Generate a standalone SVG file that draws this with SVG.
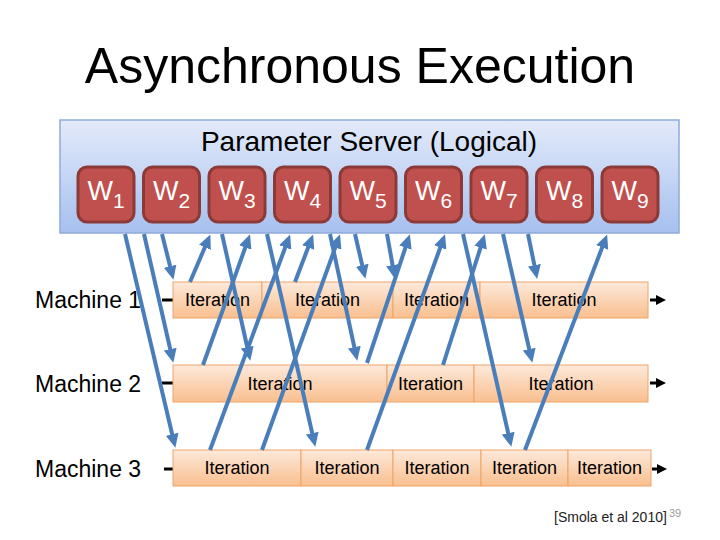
<svg xmlns="http://www.w3.org/2000/svg" width="720" height="540" viewBox="0 0 720 540">
<defs>
<linearGradient id="ps" x1="0" y1="0" x2="0" y2="1">
<stop offset="0" stop-color="#e3eafa"/>
<stop offset="1" stop-color="#a6c0ef"/>
</linearGradient>
<linearGradient id="it" x1="0" y1="0" x2="0" y2="1">
<stop offset="0" stop-color="#fde9da"/>
<stop offset="1" stop-color="#f9bf8f"/>
</linearGradient>
<marker id="ba" markerUnits="userSpaceOnUse" markerWidth="14" markerHeight="13" refX="8" refY="6.5" orient="auto">
<path d="M0,0 L14,6.5 L0,13 z" fill="#4a7ebb"/>
</marker>
<marker id="ka" markerUnits="userSpaceOnUse" markerWidth="10" markerHeight="10" refX="5" refY="5" orient="auto">
<path d="M0,0 L10,5 L0,10 z" fill="#000"/>
</marker>
</defs>
<style>
.w rect{fill:#c0504d;stroke:#8c3a38;stroke-width:3}
.w text{fill:#fff;font-family:"Liberation Sans",Arial,sans-serif;font-size:27px;text-anchor:middle}
.seg{fill:url(#it);stroke:#eda468;stroke-width:1}
.itl{font-family:"Liberation Sans",Arial,sans-serif;font-size:18px;text-anchor:middle;fill:#000}
.ml{font-family:"Liberation Sans",Arial,sans-serif;font-size:23px;fill:#000}
.bl{stroke:#4a7ebb;stroke-width:4;fill:none;marker-end:url(#ba)}
.kl{stroke:#000;stroke-width:3;fill:none}
</style>
<rect width="720" height="540" fill="#fff"/>
<text x="360" y="83" font-family="Liberation Sans, Arial, sans-serif" font-size="50" text-anchor="middle" fill="#000">Asynchronous Execution</text>

<g id="server">
<rect x="60" y="120" width="619" height="113" fill="url(#ps)" stroke="#8eaadb" stroke-width="1.5"/>
<text x="369" y="151" font-family="Liberation Sans, Arial, sans-serif" font-size="28" text-anchor="middle" fill="#000">Parameter Server (Logical)</text>
</g>
<g id="w1" class="w"><rect x="78" y="167" width="56" height="55" rx="9"/><text x="106" y="200">W<tspan font-size="21" dy="8">1</tspan></text></g>
<g id="w2" class="w"><rect x="143.5" y="167" width="56" height="55" rx="9"/><text x="171.5" y="200">W<tspan font-size="21" dy="8">2</tspan></text></g>
<g id="w3" class="w"><rect x="209" y="167" width="56" height="55" rx="9"/><text x="237" y="200">W<tspan font-size="21" dy="8">3</tspan></text></g>
<g id="w4" class="w"><rect x="274.5" y="167" width="56" height="55" rx="9"/><text x="302.5" y="200">W<tspan font-size="21" dy="8">4</tspan></text></g>
<g id="w5" class="w"><rect x="340" y="167" width="56" height="55" rx="9"/><text x="368" y="200">W<tspan font-size="21" dy="8">5</tspan></text></g>
<g id="w6" class="w"><rect x="405.5" y="167" width="56" height="55" rx="9"/><text x="433.5" y="200">W<tspan font-size="21" dy="8">6</tspan></text></g>
<g id="w7" class="w"><rect x="471" y="167" width="56" height="55" rx="9"/><text x="499" y="200">W<tspan font-size="21" dy="8">7</tspan></text></g>
<g id="w8" class="w"><rect x="536.5" y="167" width="56" height="55" rx="9"/><text x="564.5" y="200">W<tspan font-size="21" dy="8">8</tspan></text></g>
<g id="w9" class="w"><rect x="602" y="167" width="56" height="55" rx="9"/><text x="630" y="200">W<tspan font-size="21" dy="8">9</tspan></text></g>

<g id="machine1">
<text class="ml" x="35" y="308">Machine 1</text>
<line class="kl" x1="162" y1="300" x2="173" y2="300"/>
<rect class="seg" x="173" y="282" width="89" height="36"/>
<rect class="seg" x="262" y="282" width="131" height="36"/>
<rect class="seg" x="393" y="282" width="87" height="36"/>
<rect class="seg" x="480" y="282" width="168" height="36"/>
<text class="itl" x="217.5" y="306">Iteration</text>
<text class="itl" x="327.5" y="306">Iteration</text>
<text class="itl" x="436.5" y="306">Iteration</text>
<text class="itl" x="564" y="306">Iteration</text>
<line class="kl" x1="650" y1="300" x2="661" y2="300" marker-end="url(#ka)"/>
</g>
<g id="machine2">
<text class="ml" x="35" y="392">Machine 2</text>
<line class="kl" x1="162" y1="383" x2="173" y2="383"/>
<rect class="seg" x="173" y="365" width="214" height="37"/>
<rect class="seg" x="387" y="365" width="87" height="37"/>
<rect class="seg" x="474" y="365" width="174" height="37"/>
<text class="itl" x="280" y="390">Iteration</text>
<text class="itl" x="430.5" y="390">Iteration</text>
<text class="itl" x="561" y="390">Iteration</text>
<line class="kl" x1="650" y1="383" x2="661" y2="383" marker-end="url(#ka)"/>
</g>
<g id="machine3">
<text class="ml" x="35" y="477">Machine 3</text>
<line class="kl" x1="164" y1="469" x2="173" y2="469"/>
<rect class="seg" x="173" y="450" width="128" height="36"/>
<rect class="seg" x="301" y="450" width="92" height="36"/>
<rect class="seg" x="393" y="450" width="88" height="36"/>
<rect class="seg" x="481" y="450" width="87" height="36"/>
<rect class="seg" x="568" y="450" width="83" height="36"/>
<text class="itl" x="237" y="474">Iteration</text>
<text class="itl" x="347" y="474">Iteration</text>
<text class="itl" x="437" y="474">Iteration</text>
<text class="itl" x="524.5" y="474">Iteration</text>
<text class="itl" x="609.5" y="474">Iteration</text>
<line class="kl" x1="652" y1="469" x2="662" y2="469" marker-end="url(#ka)"/>
</g>

<g id="connectors">
<line class="bl" x1="125" y1="234" x2="174" y2="442"/>
<line class="bl" x1="144" y1="234" x2="172" y2="357"/>
<line class="bl" x1="162" y1="234" x2="172" y2="274"/>
<line class="bl" x1="222" y1="234" x2="249" y2="355"/>
<line class="bl" x1="267" y1="234" x2="314" y2="441"/>
<line class="bl" x1="330" y1="234" x2="356" y2="355"/>
<line class="bl" x1="355" y1="234" x2="364" y2="273"/>
<line class="bl" x1="387" y1="234" x2="394" y2="273"/>
<line class="bl" x1="463" y1="234" x2="510" y2="441"/>
<line class="bl" x1="503" y1="234" x2="531" y2="357"/>
<line class="bl" x1="528" y1="234" x2="536" y2="273"/>
<line class="bl" x1="190" y1="282" x2="208" y2="240"/>
<line class="bl" x1="295" y1="282" x2="311" y2="240"/>
<line class="bl" x1="203" y1="365" x2="248" y2="240"/>
<line class="bl" x1="210" y1="450" x2="288" y2="240"/>
<line class="bl" x1="262" y1="450" x2="338" y2="240"/>
<line class="bl" x1="367" y1="363" x2="408" y2="240"/>
<line class="bl" x1="367" y1="450" x2="443" y2="240"/>
<line class="bl" x1="443" y1="365" x2="483" y2="240"/>
<line class="bl" x1="525" y1="450" x2="605" y2="240"/>
</g>

<text x="554" y="522" font-family="Liberation Sans, Arial, sans-serif" font-size="14" fill="#222">[Smola et al 2010]</text>
<text x="669" y="517" font-family="Liberation Sans, Arial, sans-serif" font-size="11" fill="#999">39</text>
</svg>
